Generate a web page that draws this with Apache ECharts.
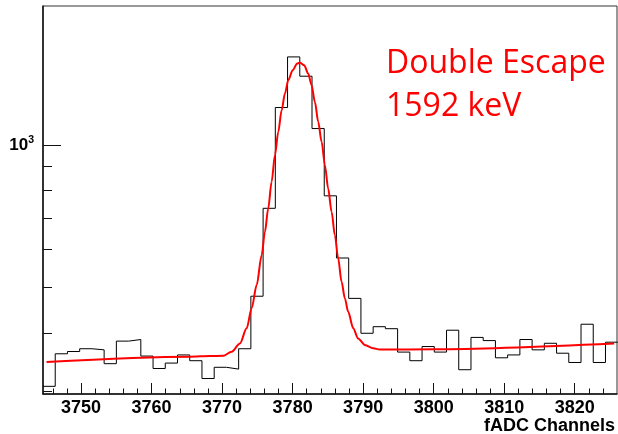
<!DOCTYPE html>
<html>
<head>
<meta charset="utf-8">
<script src="https://cdn.jsdelivr.net/npm/echarts@6/dist/echarts.min.js"></script>
<style>
  html, body { margin: 0; padding: 0; background: #fff; }
  #chart { width: 618px; height: 434px; }
</style>
</head>
<body>
<div id="chart"></div>
<script>
// Histogram range (fADC channels) and counts per bin
const histMin = 3744.6;
const histMax = 3826.1;
const counts = [
  308, 361, 365, 370, 368, 344, 384, 387, 357, 336,
  345, 359, 349, 320, 338, 335, 370, 478, 734, 1200,
  1536, 1398, 1083, 780, 576, 473, 399, 412, 408, 364,
  349, 374, 364, 405, 334, 391, 385, 354, 359, 387,
  368, 380, 362, 346, 417, 346, 382
];

// Fitted peak + background curve
const fitX = [
  3745.1, 3765.45, 3768.28, 3770.16, 3771.35, 3772.53, 3773.48, 3774.19, 3774.90, 3775.61,
  3776.07, 3776.54, 3777.02, 3777.49, 3777.96, 3778.44, 3778.91, 3779.38, 3780.00, 3780.65,
  3781.03, 3781.64, 3782.21, 3782.69, 3783.16, 3783.63, 3784.11, 3784.58, 3785.04, 3785.53,
  3785.99, 3786.46, 3786.94, 3787.41, 3787.88, 3788.59, 3789.29, 3790.24, 3791.42, 3792.37,
  3800.02, 3825.6
];
const fitY = [
  347, 356, 357, 357.5, 364.6, 379.8, 408.7, 450.6, 504.7, 584.1,
  654.3, 733.5, 835.1, 951, 1065, 1184, 1285, 1371, 1439, 1487,
  1494, 1475, 1416, 1338, 1233, 1119, 1015, 906, 808, 721,
  644, 575, 513, 473, 443, 409, 389, 377, 371, 368.5,
  369, 379.5
];

// Axis ticks and labels
const xMajorTicks = [3750, 3760, 3770, 3780, 3790, 3800, 3810, 3820];
const xMinorTicks = [3746, 3748, 3752, 3754, 3756, 3758, 3762, 3764, 3766, 3768,
  3772, 3774, 3776, 3778, 3782, 3784, 3786, 3788, 3792, 3794, 3796, 3798,
  3802, 3804, 3806, 3808, 3812, 3814, 3816, 3818, 3822, 3824];
const yMinorTicks = [300, 400, 500, 600, 700, 800, 900];
const yMajorTicks = [1000];

const xAxisMin = 3744.6, xAxisMax = 3826.0;
const yAxisMin = 296.7, yAxisMax = 1969;

const binWidth = (histMax - histMin) / counts.length;
const histData = counts.map((c, i) => [histMin + i * binWidth, c]);
histData.push([histMax, counts[counts.length - 1]]);

const fitData = fitX.map((x, i) => [x, fitY[i]]);

const axisFont = 'Liberation Sans, Arial, Helvetica, sans-serif';

const chart = echarts.init(document.getElementById('chart'), null, { renderer: 'canvas' });
chart.setOption({
  animation: false,
  backgroundColor: '#fff',
  grid: {
    left: 43, top: 6, width: 574, height: 388,
    show: true, borderColor: '#333', borderWidth: 1, backgroundColor: 'transparent'
  },
  xAxis: [
    {
      type: 'value', min: xAxisMin, max: xAxisMax, position: 'bottom',
      axisLine: { show: true, onZero: false, lineStyle: { color: '#111', width: 1.5 } },
      axisTick: { show: true, inside: true, length: 11, customValues: xMajorTicks,
        lineStyle: { color: '#111', width: 1 } },
      axisLabel: { show: true, customValues: xMajorTicks, margin: 5,
        formatter: (v) => String(v),
        color: '#000', fontSize: 18, fontWeight: 'bold', fontFamily: axisFont },
      splitLine: { show: false }
    },
    {
      type: 'value', min: xAxisMin, max: xAxisMax, position: 'bottom', offset: 0,
      axisLine: { show: false },
      axisTick: { show: true, inside: true, length: 5.5, customValues: xMinorTicks,
        lineStyle: { color: '#111', width: 1 } },
      axisLabel: { show: false },
      splitLine: { show: false }
    }
  ],
  yAxis: [
    {
      type: 'log', logBase: 10, min: yAxisMin, max: yAxisMax, position: 'left',
      axisLine: { show: true, lineStyle: { color: '#111', width: 1.5 } },
      axisTick: { show: true, inside: true, length: 9, customValues: yMinorTicks,
        lineStyle: { color: '#111', width: 1 } },
      axisLabel: {
        show: true, customValues: yMajorTicks, margin: 9,
        fontSize: 17, fontWeight: 'bold', color: '#000', fontFamily: axisFont,
        formatter: () => '{b|10}{s|3}',
        rich: {
          b: { fontSize: 17, fontWeight: 'bold', color: '#000', fontFamily: axisFont },
          s: { fontSize: 10.5, fontWeight: 'bold', color: '#000', fontFamily: axisFont,
               padding: [0, 0, 10, 0] }
        }
      },
      splitLine: { show: false }
    },
    {
      type: 'log', logBase: 10, min: yAxisMin, max: yAxisMax, position: 'left', offset: 0,
      axisLine: { show: false },
      axisTick: { show: true, inside: true, length: 18, customValues: yMajorTicks,
        lineStyle: { color: '#111', width: 1 } },
      axisLabel: { show: false },
      splitLine: { show: false }
    }
  ],
  series: [
    {
      name: 'counts', type: 'line', step: 'end',
      xAxisIndex: 0, yAxisIndex: 0,
      data: histData, showSymbol: false, symbol: 'none',
      lineStyle: { color: '#000', width: 1 },
      z: 2
    },
    {
      name: 'fit', type: 'line',
      xAxisIndex: 0, yAxisIndex: 0,
      data: fitData, showSymbol: false, symbol: 'none',
      smooth: 0.3, smoothMonotone: 'x',
      lineStyle: { color: '#ff0000', width: 2 },
      z: 3
    }
  ],
  graphic: [
    { type: 'text', x: 615, y: 426,
      style: { text: 'fADC Channels', fill: '#000', align: 'right', verticalAlign: 'middle',
        font: 'bold 18px Liberation Sans, Arial, sans-serif' } },
    { type: 'text', x: 386, y: 63.5,
      style: { text: 'Double Escape', fill: '#ff0000', align: 'left', verticalAlign: 'middle',
        font: '32px "Open Sans", "Noto Sans", sans-serif' } },
    { type: 'text', x: 386, y: 106.8,
      style: { text: '1592 keV', fill: '#ff0000', align: 'left', verticalAlign: 'middle',
        font: '32px "Open Sans", "Noto Sans", sans-serif' } }
  ]
});
</script>
</body>
</html>
